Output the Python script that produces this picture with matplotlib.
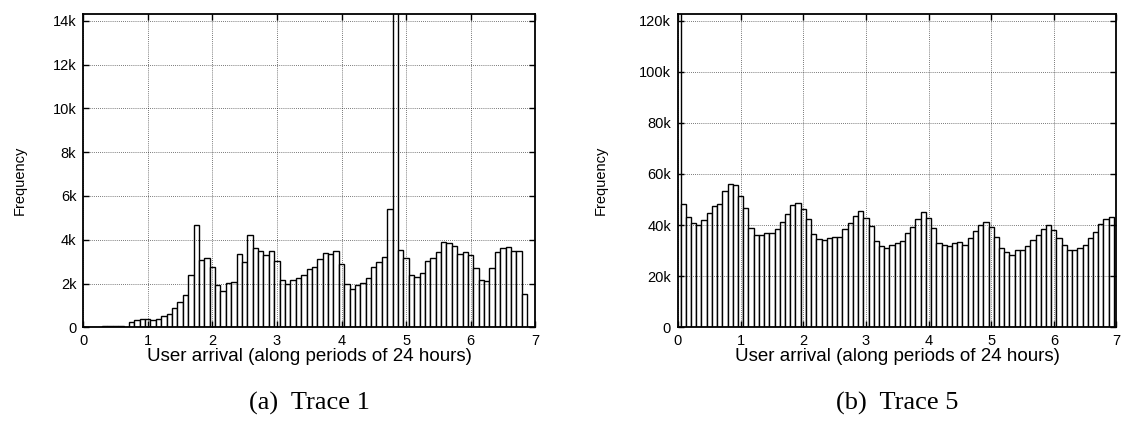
import matplotlib
matplotlib.use("Agg")
import matplotlib.pyplot as plt
import numpy as np

# Trace 1 (left) bin heights, in counts; bins of 2 hours (12 per day), centred at k/12
trace1 = [0, 5, 5, 10, 50, 60, 70, 60, 20,
          250, 320, 400, 400, 320, 370, 500, 610, 890, 1160, 1470, 2370, 4670,
          3070, 3160, 2760, 1920, 1660, 2020, 2060, 3330, 2960, 4230, 3620, 3500,
          3300, 3500, 3050, 2140, 1970, 2170, 2240, 2380, 2670, 2760, 3110, 3390,
          3340, 3470, 2900, 2000, 1730, 1950, 2020, 2240, 2750, 2980, 3220, 5400,
          16000, 3540, 3170, 2380, 2310, 2490, 3050, 3180, 3430, 3880, 3830, 3720,
          3340, 3430, 3320, 2720, 2150, 2110, 2720, 3420, 3600, 3650, 3490, 3480,
          1520, 0]

# Trace 5 (right) bin heights, in counts
trace5 = [140000, 48200, 43200, 40900, 40100, 41900, 44900, 47600, 48200, 53200,
          55900, 55500, 51300, 46500, 38800, 36000, 36000, 36800, 36800, 38500,
          41200, 44200, 47700, 48700, 46200, 42300, 36400, 34700, 34200, 35100,
          35400, 35400, 38500, 41000, 43600, 45400, 42900, 39500, 33700, 31700,
          31000, 32100, 32900, 33800, 36900, 39400, 42200, 45100, 42800, 38700,
          32800, 32100, 31700, 33100, 33500, 32400, 35000, 37800, 40000, 41200,
          39400, 35400, 31200, 29400, 28200, 30300, 30400, 31800, 34100, 36200,
          38600, 39900, 37900, 35100, 32100, 30400, 30300, 31200, 32400, 35000,
          37200, 40500, 42400, 43300]

x_ticks = [0, 1, 2, 3, 4, 5, 6, 7]
y1_ticks = [0, 2000, 4000, 6000, 8000, 10000, 12000, 14000]
y1_labels = ["0", "2k", "4k", "6k", "8k", "10k", "12k", "14k"]
y5_ticks = [0, 20000, 40000, 60000, 80000, 100000, 120000]
y5_labels = ["0", "20k", "40k", "60k", "80k", "100k", "120k"]
xlabel = "User arrival (along periods of 24 hours)"
ylabel = "Frequency"
captions = ["(a)  Trace 1", "(b)  Trace 5"]

plt.rcParams['font.family'] = ['Liberation Sans', 'DejaVu Sans']

fig = plt.figure(figsize=(11.23, 4.32), dpi=100)
ax1 = fig.add_axes([0.0741, 0.2424, 0.4025, 0.7245])
ax2 = fig.add_axes([0.6037, 0.2424, 0.3905, 0.7245])

def draw(ax, data, yt, yl, ylim, cap, ylab_x):
    n = len(data)
    centers = np.arange(n) / 12.0
    ax.bar(centers, data, width=1/12.0, facecolor='white', edgecolor='black',
           linewidth=1.0, align='center', zorder=1)
    ax.set_xlim(0, 7)
    ax.set_ylim(0, ylim)
    ax.set_xticks(x_ticks)
    ax.set_xticklabels([str(t) for t in x_ticks], fontsize=10.5)
    ax.set_yticks(yt)
    ax.set_yticklabels(yl, fontsize=10.5)
    ax.set_axisbelow(False)
    ax.grid(True, linestyle=(0, (1, 1.5)), color='black', linewidth=0.6, alpha=0.7)
    ax.tick_params(direction='in', top=True, right=True, length=4, width=1,
                   pad=5)
    for s in ax.spines.values():
        s.set_linewidth(1.3)
    ax.set_xlabel(xlabel, fontsize=13.5, labelpad=0)
    ax.set_ylabel(ylabel, fontsize=10.5)
    ax.yaxis.set_label_coords(ylab_x, 0.47)
    ax.text(0.5, -0.205, cap, transform=ax.transAxes, ha='center', va='top',
            fontsize=19, family=['Liberation Serif', 'DejaVu Serif'])

draw(ax1, trace1, y1_ticks, y1_labels, 14300, captions[0], -0.126)
draw(ax2, trace5, y5_ticks, y5_labels, 122500, captions[1], -0.160)

fig.savefig("out.png", dpi=100)
